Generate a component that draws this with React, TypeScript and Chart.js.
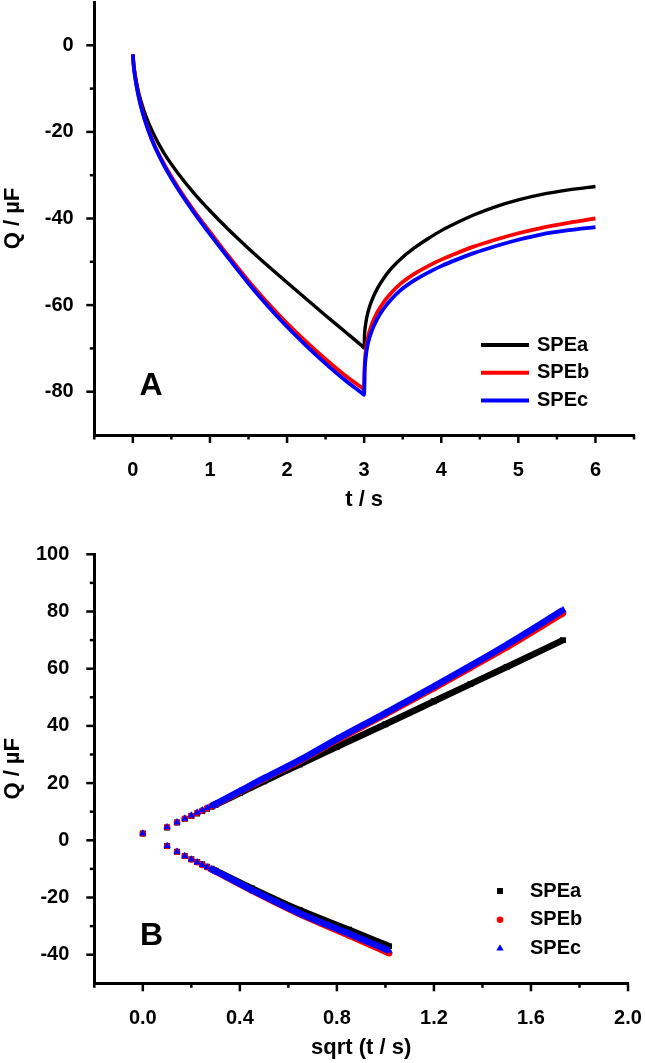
import React, { useEffect, useRef } from "react";
import { Chart, registerables } from "chart.js";
import { drawPoint } from "chart.js/helpers";

Chart.register(...registerables);

const FONT = "'Liberation Sans', Arial, Helvetica, sans-serif";

const seriesNames = ["SPEa", "SPEb", "SPEc"];
const seriesColors = ["#000000", "#ff0000", "#0000ff"];
const markerStyles = ["rect", "circle", "triangle"];
const markerSizes = [4.2, 3.3, 4.2];

// ---- panel A : charge vs time ----
const timeA = [
  0, 0.01, 0.04, 0.08, 0.15, 0.25, 0.4, 0.6, 0.8, 1, 1.25, 1.5, 1.75, 2, 2.25,
  2.5, 2.75, 2.97, 3, 3.005, 3.02, 3.05, 3.1, 3.17, 3.25, 3.35, 3.47, 3.65,
  3.86, 4, 4.2, 4.42, 4.7, 5, 5.29, 5.65, 6,
];
const speaA = [
  -2.1, -4.4, -7.9, -11.3, -15.4, -19.8, -24.8, -29.9, -34.3, -38.2, -42.7,
  -46.9, -50.9, -54.8, -58.6, -62.4, -66.1, -69.4, -69.9, -67.0, -64.3, -61.6,
  -58.9, -56.2, -53.9, -51.6, -49.4, -46.8, -44.3, -42.8, -41.0, -39.2, -37.3,
  -35.7, -34.5, -33.4, -32.6,
];
const spebA = [
  -2.1, -4.5, -8.4, -12.1, -16.8, -21.8, -27.3, -33.2, -38.4, -43.1, -48.9,
  -54.4, -59.5, -64.2, -68.5, -72.5, -76.2, -79.1, -79.5, -75.0, -70.8, -67.4,
  -64.4, -61.7, -59.4, -57.2, -55.1, -52.8, -50.7, -49.5, -48.0, -46.5, -44.9,
  -43.4, -42.2, -41.0, -40.0,
];
const specA = [
  -2.1, -4.6, -8.5, -12.3, -17.0, -22.0, -27.6, -33.6, -38.8, -43.6, -49.4,
  -55.0, -60.2, -65.0, -69.4, -73.5, -77.3, -80.3, -80.7, -76.0, -72.2, -68.8,
  -65.9, -63.2, -60.9, -58.7, -56.6, -54.3, -52.2, -51.0, -49.5, -48.0, -46.4,
  -44.9, -43.7, -42.7, -42.0,
];
const xTicksA = [0, 1, 2, 3, 4, 5, 6];
const yTicksA = [-80, -60, -40, -20, 0];

// ---- panel B : charge vs sqrt(time) ----
const rootUpper = [
  0, 0.1, 0.141, 0.173, 0.2, 0.224, 0.245, 0.265, 0.283, 0.3, 0.4, 0.5, 0.646,
  0.8, 1.0, 1.2, 1.35, 1.5, 1.732,
];
const speaUpper = [
  2.4, 4.5, 6.2, 7.5, 8.5, 9.4, 10.2, 11.0, 11.7, 12.4, 16.5, 20.6, 26.5, 32.7,
  40.6, 48.6, 54.6, 60.6, 70.0,
];
const spebUpper = [
  2.4, 4.6, 6.3, 7.6, 8.6, 9.6, 10.4, 11.2, 11.9, 12.6, 17.0, 21.5, 27.7, 35.0,
  44.0, 53.2, 60.3, 67.5, 79.4,
];
const specUpper = [
  2.4, 4.6, 6.3, 7.6, 8.7, 9.7, 10.5, 11.3, 12.0, 12.7, 17.2, 21.7, 28.0, 35.4,
  44.5, 53.8, 61.0, 68.4, 80.5,
];
const rootLower = [
  0.1, 0.141, 0.173, 0.2, 0.224, 0.245, 0.265, 0.283, 0.3, 0.45, 0.646, 0.85,
  1.015,
];
const speaLower = [
  -2.0, -4.0, -5.5, -6.6, -7.6, -8.4, -9.2, -9.9, -10.6, -16.8, -24.4, -31.3,
  -37.0,
];
const spebLower = [
  -2.0, -4.0, -5.5, -6.7, -7.7, -8.6, -9.4, -10.1, -10.9, -17.6, -25.8, -33.3,
  -39.5,
];
const specLower = [
  -2.0, -4.0, -5.5, -6.7, -7.7, -8.6, -9.4, -10.1, -10.8, -17.4, -25.5, -32.7,
  -38.6,
];
const xTicksB = [0, 0.4, 0.8, 1.2, 1.6, 2.0];
const yTicksB = [-40, -20, 0, 20, 40, 60, 80, 100];

const tickFont = { family: FONT, size: 20, weight: "bold" as const };
const titleFont = { family: FONT, size: 22, weight: "bold" as const };

// outward major / minor tick marks drawn on the library's scales
const axisTicksPlugin = {
  id: "axisTicks",
  afterDraw(chart: any, _args: any, opts: any) {
    const { ctx, chartArea } = chart;
    const x = chart.scales.x;
    const y = chart.scales.y;
    ctx.save();
    ctx.strokeStyle = "#000";
    ctx.lineWidth = 2.5;
    const walk = (scale: any, step: number, majors: number[], ends: boolean, fn: (p: number, len: number) => void) => {
      const n = Math.round((scale.max - scale.min) / step);
      for (let k = 0; k <= n; k++) {
        const v = +(scale.min + k * step).toFixed(6);
        const major = majors.some((m) => Math.abs(m - v) < 1e-6);
        if (!major && !ends && (k === 0 || k === n)) continue;
        fn(scale.getPixelForValue(v), major ? 8 : 4.5);
      }
    };
    walk(x, opts.xMinor, x.ticks.map((t: any) => t.value), true, (p, len) => {
      ctx.beginPath();
      ctx.moveTo(p, chartArea.bottom);
      ctx.lineTo(p, chartArea.bottom + len);
      ctx.stroke();
    });
    walk(y, opts.yMinor, y.ticks.map((t: any) => t.value), false, (p, len) => {
      ctx.beginPath();
      ctx.moveTo(chartArea.left, p);
      ctx.lineTo(chartArea.left - len, p);
      ctx.stroke();
    });
    ctx.restore();
  },
};

// legend inside the plot plus the panel letter
const panelLegendPlugin = {
  id: "panelLegend",
  afterDraw(chart: any, _args: any, opts: any) {
    const { ctx } = chart;
    ctx.save();
    ctx.textBaseline = "middle";
    ctx.textAlign = "left";
    ctx.font = `bold 20px ${FONT}`;
    chart.data.datasets.forEach((ds: any, i: number) => {
      const cy = opts.top + i * opts.gap;
      ctx.fillStyle = ds.borderColor;
      ctx.strokeStyle = ds.borderColor;
      if (opts.kind === "line") {
        ctx.lineWidth = 4;
        ctx.beginPath();
        ctx.moveTo(opts.left, cy);
        ctx.lineTo(opts.left + 48, cy);
        ctx.stroke();
      } else {
        drawPoint(ctx, { pointStyle: ds.pointStyle, radius: ds.pointRadius, rotation: 0, borderWidth: 0 }, opts.left, cy);
      }
      ctx.fillStyle = "#000";
      ctx.fillText(ds.label, opts.textLeft, cy);
    });
    ctx.font = `bold 32px ${FONT}`;
    ctx.textAlign = "center";
    ctx.fillStyle = "#000";
    ctx.fillText(opts.letter, opts.letterX, opts.letterY);
    ctx.restore();
  },
};

const axisBase = (title: string, pad: number, titlePad: any) => ({
  type: "linear" as const,
  grid: { display: false },
  border: { display: true, color: "#000", width: 3 },
  ticks: { padding: pad, font: tickFont, color: "#000", autoSkip: false, maxRotation: 0 },
  title: { display: true, text: title, font: titleFont, color: "#000", padding: titlePad },
});

// fixed axis boxes; the label overflow padding is dropped so the plot area stays put
const fixHeight = (h: number) => (s: any) => {
  s.height = h;
  s.paddingLeft = 0;
  s.paddingRight = 0;
};
const fixWidth = (w: number) => (s: any) => {
  s.width = w;
  s.paddingTop = 0;
  s.paddingBottom = 0;
};

const App = () => {
  const refA = useRef<HTMLCanvasElement>(null);
  const refB = useRef<HTMLCanvasElement>(null);
  const chartA = useRef<any>(null);
  const chartB = useRef<any>(null);

  useEffect(() => {
    if (chartA.current) chartA.current.destroy();
    if (chartB.current) chartB.current.destroy();

    const valuesA = [speaA, spebA, specA];
    chartA.current = new Chart(refA.current as HTMLCanvasElement, {
      type: "line",
      data: {
        datasets: seriesNames.map((name, i) => ({
          label: name,
          data: timeA.map((t, k) => ({ x: t, y: valuesA[i][k] })),
          borderColor: seriesColors[i],
          backgroundColor: seriesColors[i],
          borderWidth: i === 0 ? 3.4 : 3.8,
          pointRadius: 0,
          cubicInterpolationMode: "monotone" as const,
          order: 3 - i,
        })),
      },
      options: {
        animation: false,
        responsive: false,
        events: [],
        layout: { padding: { top: 2, right: 11, left: 0, bottom: 0 } },
        plugins: {
          legend: { display: false },
          tooltip: { enabled: false },
          axisTicks: { xMinor: 0.5, yMinor: 10 },
          panelLegend: { kind: "line", left: 481, textLeft: 537, top: 345, gap: 27.8, letter: "A", letterX: 151, letterY: 386 },
        } as any,
        scales: {
          x: {
            ...axisBase("t / s", 15, { top: 0, bottom: 16.8 }),
            min: -0.5,
            max: 6.5,
            afterBuildTicks: (s: any) => {
              s.ticks = xTicksA.map((v) => ({ value: v }));
            },
            afterFit: fixHeight(95),
          },
          y: {
            ...axisBase("Q / µF", 12.6, { top: 0, bottom: 0 }),
            min: -90,
            max: 10,
            afterBuildTicks: (s: any) => {
              s.ticks = yTicksA.map((v) => ({ value: v }));
            },
            afterFit: fixWidth(94.3),
          },
        },
      },
      plugins: [axisTicksPlugin, panelLegendPlugin],
    });

    const upperB = [speaUpper, spebUpper, specUpper];
    const lowerB = [speaLower, spebLower, specLower];
    chartB.current = new Chart(refB.current as HTMLCanvasElement, {
      type: "scatter",
      data: {
        datasets: seriesNames.map((name, i) => ({
          label: name,
          data: [
            ...rootUpper.map((r, k) => ({ x: r, y: upperB[i][k] })),
            { x: 1.0, y: null },
            ...rootLower.map((r, k) => ({ x: r, y: lowerB[i][k] })),
          ],
          showLine: true,
          spanGaps: false,
          cubicInterpolationMode: "monotone" as const,
          borderColor: seriesColors[i],
          backgroundColor: seriesColors[i],
          borderWidth: 6.5,
          pointStyle: markerStyles[i],
          pointRadius: markerSizes[i],
          pointBorderWidth: 0,
          segment: {
            borderColor: (c: any) => (c.p0.parsed.x < 0.27 ? "rgba(0,0,0,0)" : seriesColors[i]),
          },
          order: 3 - i,
        })),
      },
      options: {
        animation: false,
        responsive: false,
        events: [],
        layout: { padding: { top: 24.3, right: 17, left: 0, bottom: 0 } },
        plugins: {
          legend: { display: false },
          tooltip: { enabled: false },
          axisTicks: { xMinor: 0.2, yMinor: 10 },
          panelLegend: { kind: "point", left: 500, textLeft: 530, top: 361, gap: 28.7, letter: "B", letterX: 151.5, letterY: 406.5 },
        } as any,
        scales: {
          x: {
            ...axisBase("sqrt (t / s)", 15, { top: 0, bottom: 1.8 }),
            min: -0.2,
            max: 2.0,
            afterBuildTicks: (s: any) => {
              s.ticks = xTicksB.map((v) => ({ value: v }));
            },
            afterFit: fixHeight(79.7),
            ticks: { ...axisBase("", 15, {}).ticks, callback: (v: any) => Number(v).toFixed(1) },
          },
          y: {
            ...axisBase("Q / µF", 17, { top: 0, bottom: 0 }),
            min: -50,
            max: 100,
            afterBuildTicks: (s: any) => {
              s.ticks = yTicksB.map((v) => ({ value: v }));
            },
            afterFit: fixWidth(94.3),
          },
        },
      },
      plugins: [axisTicksPlugin, panelLegendPlugin],
    });

    return () => {
      if (chartA.current) chartA.current.destroy();
      if (chartB.current) chartB.current.destroy();
      chartA.current = null;
      chartB.current = null;
    };
  }, []);

  return (
    <div style={{ position: "absolute", left: 0, top: 0, width: 645, height: 1063, background: "#fff" }}>
      <canvas ref={refA} width={645} height={530} style={{ position: "absolute", left: 0, top: 0 }} />
      <canvas ref={refB} width={645} height={533} style={{ position: "absolute", left: 0, top: 530 }} />
    </div>
  );
};

export default App;
